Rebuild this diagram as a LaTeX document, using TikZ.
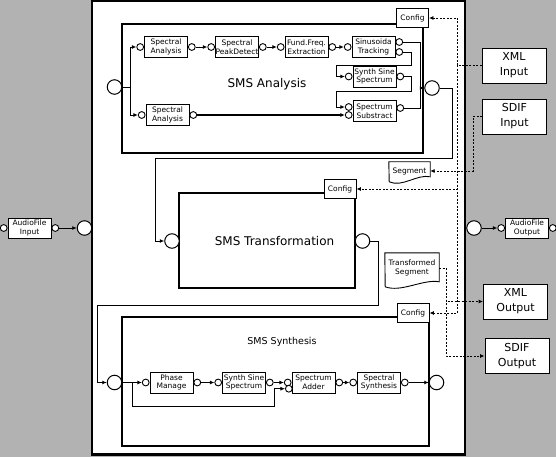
\documentclass[tikz,border=0pt]{standalone}
\usepackage{fontspec}
\setmainfont{DejaVu Sans}
\usetikzlibrary{arrows.meta,positioning}

\tikzset{
  frame/.style={draw, fill=white, line width=2.8pt, inner sep=0pt},
  sys/.style={draw, fill=white, line width=2.2pt, inner sep=0pt},
  blk/.style={draw, fill=white, line width=0.9pt, minimum width=43pt, minimum height=21pt,
    inner sep=0pt, align=center, font=\fontsize{7.5}{8.6}\selectfont},
  cfg/.style={draw, fill=white, line width=0.9pt, minimum width=32pt, minimum height=19pt,
    inner sep=0pt, font=\fontsize{7.5}{8}\selectfont},
  doc/.style={inner sep=0pt, align=center, font=\fontsize{7.5}{8.6}\selectfont},
  io/.style={draw, fill=white, line width=0.9pt, minimum width=64pt, minimum height=35pt,
    inner sep=0pt, align=center, font=\fontsize{11}{15}\selectfont},
  port/.style={circle, draw, fill=white, line width=0.9pt, minimum size=6.8pt, inner sep=0pt},
  bigport/.style={circle, draw, fill=white, line width=1pt, minimum size=14.5pt, inner sep=0pt},
  wire/.style={line width=0.9pt},
  flow/.style={line width=0.9pt, -{Latex[length=4.5pt,width=4pt]}},
  dsh/.style={line width=0.9pt, dash pattern=on 2pt off 1.5pt},
  dflow/.style={dsh, -{Latex[length=4.5pt,width=4pt]}},
}

\begin{document}
\begin{tikzpicture}[x=1pt,y=-1pt]
\useasboundingbox (0,0) rectangle (556,457);
\fill[black!30] (0,0) rectangle (556,457);
\node[frame, minimum width=373pt, minimum height=453.5pt] (main) at (278.5,227.75) {};

% analysis
\node[sys, minimum width=301pt, minimum height=129pt] (ana) at (272.5,88.5) {};
\node[font=\fontsize{12}{14}\selectfont] (anaT) at (267,84) {SMS Analysis};
\node[cfg] (cfgA) at (412.5,18) {Config};
\node[bigport] (inA) at (114.5,87) {};
\node[bigport] (outA) at (432,88) {};
\node[blk] (saA) at (166,47) {Spectral\\Analysis};
\node[blk] (pd) at (237,47) {Spectral\\PeakDetect};
\node[blk] (ff) at (306.5,47) {Fund.Freq.\\Extraction};
\node[blk] (st) at (373.5,47) {Sinusoida\\Tracking};
\node[blk] (ss) at (374.5,76.5) {Synth Sine\\Spectrum};
\node[blk] (sub) at (374.5,111) {Spectrum\\Substract};
\node[blk] (saB) at (167.5,115) {Spectral\\Analysis};

% transformation
\node[sys, minimum width=176pt, minimum height=95pt] (tra) at (267,240.5) {};
\node[font=\fontsize{12}{14}\selectfont] (traT) at (274.5,241) {SMS Transformation};
\node[cfg] (cfgT) at (340,189) {Config};
\node[bigport] (inT) at (172,241) {};
\node[bigport] (outT) at (362.5,241) {};

% synthesis
\node[sys, minimum width=307pt, minimum height=129pt] (syn0) at (275.5,381.5) {};
\node[font=\fontsize{9.5}{11}\selectfont] (synT) at (282,342) {SMS Synthesis};
\node[cfg] (cfgS) at (413,313) {Config};
\node[bigport] (inS) at (114.5,382.5) {};
\node[bigport] (outS) at (436.5,382.5) {};
\node[blk] (pm) at (171.5,382.5) {Phase\\Manage};
\node[blk] (ssS) at (244,382.5) {Synth Sine\\Spectrum};
\node[blk] (add) at (313.5,382.5) {Spectrum\\Adder};
\node[blk] (syn) at (379,382.5) {Spectral\\Synthesis};

% outside
\node[blk, minimum height=20pt] (afi) at (29.5,228) {AudioFile\\Input};
\node[blk, minimum height=20pt] (afo) at (527,228) {AudioFile\\Output};
\node[bigport] (inM) at (84.5,228) {};
\node[bigport] (outM) at (474,228) {};
\node[io] (xin) at (514,65.5) {XML\\Input};
\node[io] (sin) at (514.5,116.5) {SDIF\\Input};
\node[io] (xout) at (515.5,301.5) {XML\\Output};
\node[io] (sout) at (517,356) {SDIF\\Output};

% documents
\node[doc, minimum width=41pt, minimum height=18pt] (seg) at (409.5,171) {Segment};
\draw[wire] (seg.north west) -- (seg.north east) -- ++(0,15)
  .. controls +(-13,-3) and +(13,6) .. ++(-41,5) -- cycle;
\node[doc, minimum width=54pt, minimum height=30pt] (tseg) at (412,268) {Transformed\\Segment};
\draw[wire] (tseg.north west) -- (tseg.north east) -- ++(0,29)
  .. controls +(-16,-3) and +(16,6) .. ++(-54,5) -- cycle;

% ports
\foreach \b in {saA,pd,ff,ss,saB,pm,ssS,syn,afi,afo} {
  \node[port, left=0pt of \b] (\b-i) {};
  \node[port, right=0pt of \b] (\b-o) {};
}
\node[port, left=0pt of st] (st-i) {};
\node[port, anchor=west] (st-o1) at ([yshift=5pt]st.east) {};
\node[port, anchor=west] (st-o2) at ([yshift=-5pt]st.east) {};
\node[port, anchor=east] (sub-i1) at ([yshift=4pt]sub.west) {};
\node[port, anchor=east] (sub-i2) at ([yshift=-4pt]sub.west) {};
\node[port, anchor=west] (sub-o) at ([yshift=3pt]sub.east) {};
\node[port, left=0pt of add] (add-i1) {};
\node[port, anchor=north east] (add-i2) at ([yshift=-3.5pt]add.west) {};
\node[port, right=0pt of add] (add-o) {};

% analysis wiring
\coordinate (jA) at (130,87);
\draw[wire] (inA) -- (jA);
\draw[flow] (jA) |- (saA-i);
\draw[flow] (jA) |- (saB-i);
\draw[flow] (saA-o) -- (pd-i);
\draw[flow] (pd-o) -- (ff-i);
\draw[flow] (ff-o) -- (st-i);
\draw[flow] (st-o2) -- ++(12,0) |- ++(-75,13) |- (ss-i);
\draw[flow] (ss-o) -- ++(11,0) |- ++(-75,15) |- (sub-i1);
\draw[flow, line width=1.4pt] (saB-o) -- (sub-i2);
\coordinate (cA) at (420,88);
\draw[wire] (st-o1) -| (cA);
\draw[wire] (sub-o) -| (cA);
\draw[flow] (cA) -- (outA);

% between the stages
\draw[flow] (outA) -- ++(20,0) |- ++(-297,70) |- (inT);
\draw[flow] (outT) -- ++(16,0) |- ++(-281,64) |- (inS);

% synthesis wiring
\coordinate (jS) at (132,382.5);
\draw[wire] (inS) -- (jS);
\draw[flow] (jS) -- (pm-i);
\draw[flow] (jS) |- ++(142,24) |- (add-i2);
\draw[flow] (pm-o) -- (ssS-i);
\draw[flow] (ssS-o) -- (add-i1);
\draw[flow] (add-o) -- (syn-i);
\draw[flow] (syn-o) -- (outS);

% files
\draw[flow] (afi-o) -- (inM);
\draw[flow] (outM) -- (afo-i);

% settings
\draw[dsh] (xin) -- (457,65.5) coordinate (xj);
\draw[dflow] (xj) |- (cfgA);
\draw[dflow] (xj) |- (cfgT);
\draw[dflow] (xj) |- (cfgS);
\draw[dflow] (sin) -- ++(-41.5,0) |- (seg);
\draw[dsh] (tseg) -- ++(34,0) coordinate (tj);
\draw[dflow] (tj) |- (xout);
\draw[dflow] (tj) |- (sout);
\end{tikzpicture}
\end{document}
